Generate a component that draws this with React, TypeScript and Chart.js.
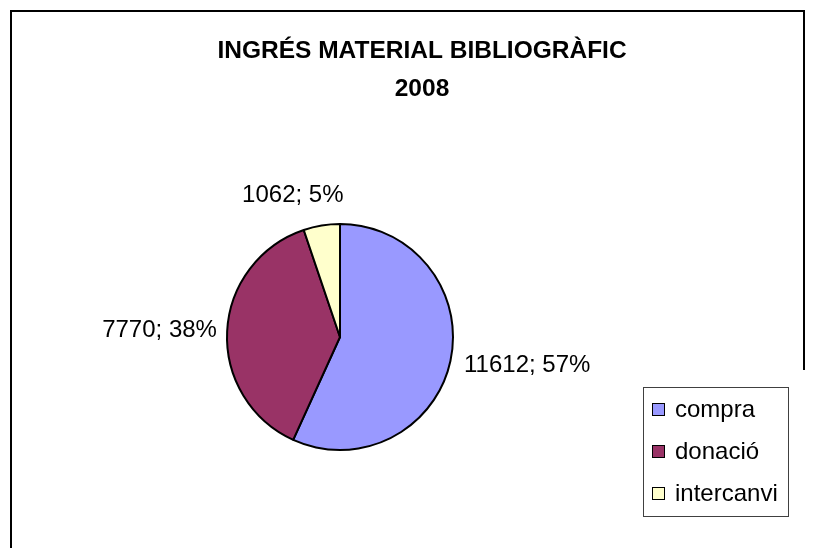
import React, { useEffect, useRef } from "react";
import { Chart, registerables } from "chart.js";

Chart.register(...registerables);

const titleLines = ["INGRÉS MATERIAL BIBLIOGRÀFIC", "2008"];
const categories = ["compra", "donació", "intercanvi"];
const values = [11612, 7770, 1062];
const colors = ["#9999FF", "#993366", "#FFFFCC"];

const FONT = "'Liberation Sans', Arial, sans-serif";

const decorPlugin = {
  id: "decor",
  beforeDraw(chart: any) {
    const ctx = chart.ctx;
    ctx.save();
    ctx.fillStyle = "#ffffff";
    ctx.fillRect(0, 0, chart.width, chart.height);
    ctx.strokeStyle = "#000000";
    ctx.lineWidth = 2;
    ctx.beginPath();
    ctx.moveTo(11, chart.height);
    ctx.lineTo(11, 11);
    ctx.lineTo(804, 11);
    ctx.lineTo(804, 370);
    ctx.stroke();
    // title
    ctx.fillStyle = "#000000";
    ctx.font = `bold 24.5px ${FONT}`;
    ctx.textAlign = "center";
    ctx.textBaseline = "middle";
    titleLines.forEach((t, i) => ctx.fillText(t, 422, 51 + i * 38));
    ctx.restore();
  },
  afterDraw(chart: any) {
    const ctx = chart.ctx;
    const meta = chart.getDatasetMeta(0);
    const data = chart.data.datasets[0].data as number[];
    const total = data.reduce((a, b) => a + b, 0);
    ctx.save();
    ctx.font = `24px ${FONT}`;
    ctx.fillStyle = "#000000";
    ctx.textBaseline = "middle";
    ctx.textAlign = "center";
    meta.data.forEach((arc: any, i: number) => {
      const p = arc.getProps(["x", "y", "startAngle", "endAngle", "outerRadius"], true);
      const mid = (p.startAngle + p.endAngle) / 2;
      const dx = Math.cos(mid);
      const dy = Math.sin(mid);
      const text = `${data[i]}; ${Math.round((data[i] / total) * 100)}%`;
      const w = ctx.measureText(text).width;
      const h = 18;
      const r = p.outerRadius + 10;
      const ax = p.x + dx * r;
      const ay = p.y + dy * r;
      // near-vertical labels are pushed further out and centred a little wider
      const vert = Math.abs(dy);
      const cx = ax + dx * (w / 2) + dx * vert * vert * 120;
      const cy = ay + dy * (h / 2) + dy * vert * vert * 12;
      ctx.fillText(text, cx, cy);
    });
    // legend
    const lx = 643, ly = 387, lw = 145, lh = 129;
    ctx.strokeStyle = "#404040";
    ctx.lineWidth = 1;
    ctx.strokeRect(lx + 0.5, ly + 0.5, lw, lh);
    ctx.textAlign = "left";
    ctx.font = `24px ${FONT}`;
    const labels = chart.data.labels as string[];
    const bg = chart.data.datasets[0].backgroundColor as string[];
    labels.forEach((lab, i) => {
      const y = 409 + i * 42;
      ctx.fillStyle = bg[i];
      ctx.fillRect(652, y - 6, 13, 13);
      ctx.strokeStyle = "#000000";
      ctx.strokeRect(652.5, y - 5.5, 12, 12);
      ctx.fillStyle = "#000000";
      ctx.fillText(lab, 675, y + 1);
    });
    ctx.restore();
  },
};

export default function App() {
  const ref = useRef<HTMLCanvasElement>(null);
  useEffect(() => {
    if (!ref.current) return;
    const chart = new Chart(ref.current, {
      type: "pie",
      data: {
        labels: categories,
        datasets: [
          {
            data: values,
            backgroundColor: colors,
            borderColor: "#000000",
            borderWidth: 2,
          },
        ],
      },
      options: {
        responsive: false,
        animation: false,
        layout: { padding: { left: 226, right: 359, top: 223, bottom: 97 } },
        plugins: {
          legend: { display: false },
          title: { display: false },
          tooltip: { enabled: false },
        },
      },
      plugins: [decorPlugin],
    });
    return () => chart.destroy();
  }, []);
  return (
    <div style={{ position: "absolute", left: 0, top: 0, width: 813, height: 548 }}>
      <canvas ref={ref} width={813} height={548} />
    </div>
  );
}
